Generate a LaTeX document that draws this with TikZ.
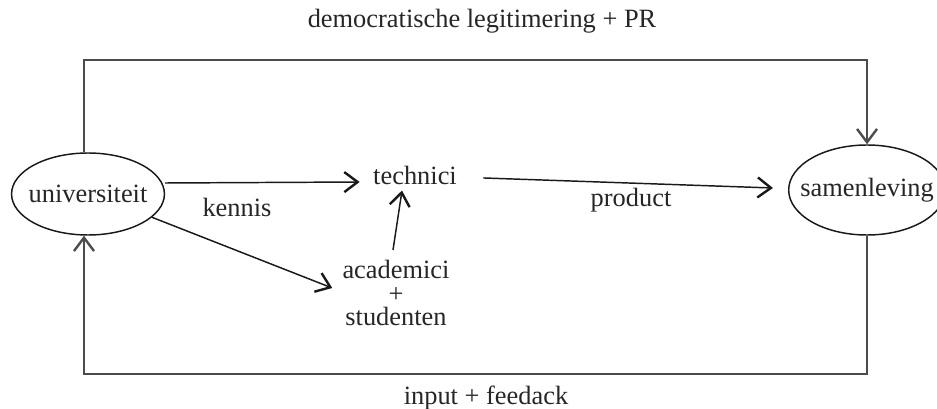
\documentclass[tikz,border=0pt]{standalone}
\usepackage{fontspec}
\setmainfont{Liberation Serif}
\usetikzlibrary{arrows.meta,shapes.geometric}
\begin{document}
\begin{tikzpicture}[x=0.75pt,y=-0.75pt,
  every node/.style={font=\fontsize{19.8}{17.6}\selectfont, inner sep=0pt, text=black!85},
  tip/.style={-{Straight Barb[length=10pt,width=15pt,line width=1.8pt]}},
  loopline/.style={draw=black!70, line width=1.6pt, line join=miter},
  conn/.style={draw=black!90, line width=1.1pt, tip},
  oval/.style={draw=black!90, ellipse, line width=1.1pt}]
\useasboundingbox (0,0) rectangle (937,409);
\node[oval, inner xsep=-4pt, minimum width=114pt, minimum height=61.5pt] (univ) at (88,194) {universiteit};
\node[oval, inner xsep=-8.5pt, minimum width=115.5pt, minimum height=67.5pt] (samen) at (867,190) {samenleving};
\node[anchor=base, inner xsep=10pt] (tech) at (415,185) {technici};
\node[anchor=north, align=center] (acad) at (396,260) {academici\\+\\studenten};
\node[anchor=base] (kennis) at (237,217) {kennis};
\node[anchor=base] (product) at (631,207) {product};
\node[anchor=base] (toplabel) at (482,28) {democratische legitimering + PR};
\node[anchor=base] (bottomlabel) at (486,404) {input + feedack};
\coordinate (tl) at (84,60);
\coordinate (tr) at (867,60);
\coordinate (bl) at (84,374);
\coordinate (br) at (867,374);
% loop lines
\draw[loopline, tip] (univ.north -| tl) -- (tl) -- (tr) -- (samen.north -| tr);
\draw[loopline, tip] (samen.south -| br) -- (br) -- (bl) -- (univ.south -| bl);
% connectors
\draw[conn] (univ.east |- 0,183) -- (tech.west |- 0,182);
\draw[conn] ([shift={(13,2)}]tech.east) -- ([shift={(-15,-2)}]samen.west);
\draw[conn] (univ.-20) -- ([shift={(-10,-5)}]acad.west);
\draw[conn] ([shift={(-3,-10)}]acad.north) -- ([shift={(-13,5)}]tech.south);
\end{tikzpicture}
\end{document}
